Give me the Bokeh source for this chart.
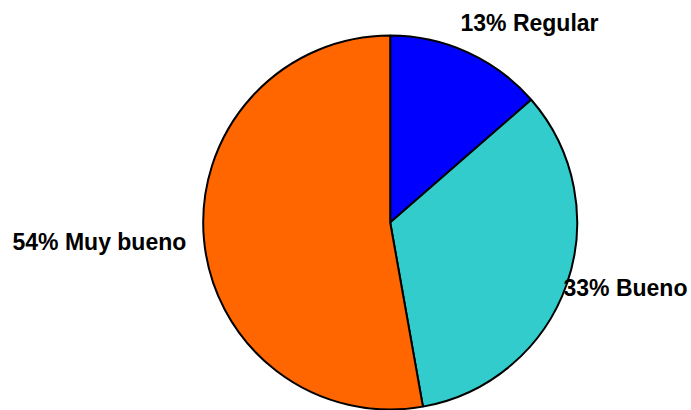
import math
from bokeh.plotting import figure
from bokeh.models import Range1d, ColumnDataSource
from bokeh.core.properties import value
from bokeh.embed import file_html
from bokeh.resources import INLINE

categories = ["Regular", "Bueno", "Muy bueno"]
label_percents = [13, 33, 54]          # percentages as printed on the chart
slice_shares = [13.6, 33.6, 52.8]
colors = ["#0000FF", "#33CCCC", "#FF6600"]

W, H = 691, 410
cx, cy, r = 389.7, H - 222, 187

starts, ends = [], []
cum = 0.0
total = sum(slice_shares)
for v in slice_shares:
    starts.append(math.pi / 2 - 2 * math.pi * cum / total)
    cum += v
    ends.append(math.pi / 2 - 2 * math.pi * cum / total)

src = ColumnDataSource(dict(x=[cx] * 3, y=[cy] * 3, start=starts, end=ends, color=colors))

p = figure(width=W, height=H, x_range=Range1d(0, W), y_range=Range1d(0, H),
           output_backend="svg", toolbar_location=None, min_border=0)
p.axis.visible = False
p.grid.visible = False
p.outline_line_color = None
p.background_fill_color = "white"
p.border_fill_color = "white"

p.wedge(x="x", y="y", radius=r, start_angle="start", end_angle="end", direction="clock",
        fill_color="color", line_color="black", line_width=2, source=src)

labels = [f"{v}% {c}" for v, c in zip(label_percents, categories)]
lx = [460, 563, 12]
ly = [H - 22, H - 287.5, H - 241]
p.text(x=lx, y=ly, text=labels, text_font=value("Liberation Sans"), text_font_style="bold",
       text_font_size="23px", text_color="black", text_baseline="middle", text_align="left")

open("out.html", "w").write(file_html(p, INLINE))
